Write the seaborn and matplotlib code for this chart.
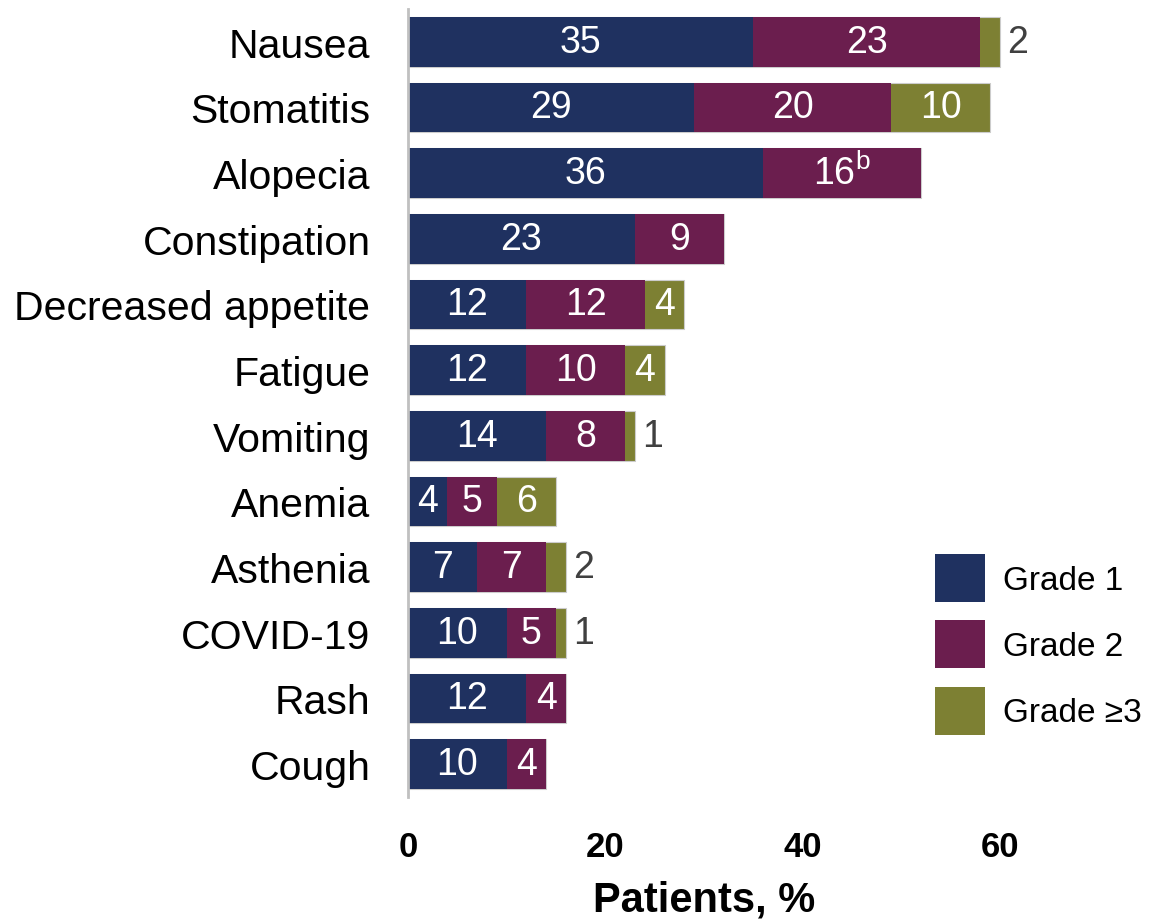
import numpy as np
import pandas as pd
import matplotlib
matplotlib.use('Agg')
import matplotlib.pyplot as plt
import seaborn as sns
from matplotlib.patches import Patch

# data (% of patients)
categories = ['Nausea', 'Stomatitis', 'Alopecia', 'Constipation', 'Decreased appetite',
              'Fatigue', 'Vomiting', 'Anemia', 'Asthenia', 'COVID-19', 'Rash', 'Cough']
grade1 = [35, 29, 36, 23, 12, 12, 14, 4, 7, 10, 12, 10]
grade2 = [23, 20, 16, 9, 12, 10, 8, 5, 7, 5, 4, 4]
grade3 = [2, 10, 0, 0, 4, 4, 1, 6, 2, 1, 0, 0]
legend_labels = ['Grade 1', 'Grade 2', 'Grade \u22653']
footnotes = {('Alopecia', 1): 'b'}
x_ticks = [0, 20, 40, 60]

navy = '#1F3160'
plum = '#6B1E4E'
olive = '#7D8033'

sns.set_style('white')
plt.rcParams['font.family'] = ['Liberation Sans', 'DejaVu Sans']
plt.rcParams['text.color'] = 'black'
plt.rcParams['axes.labelcolor'] = 'black'
plt.rcParams['xtick.color'] = 'black'
plt.rcParams['ytick.color'] = 'black'

df = pd.DataFrame({'AE': categories, 'g1': grade1, 'g2': grade2, 'g3': grade3})
df['g12'] = df['g1'] + df['g2']
df['total'] = df['g12'] + df['g3']

fig = plt.figure(figsize=(11.52, 9.2), dpi=100)
ax = fig.add_axes([408 / 1152, 1 - 798 / 920, 740 / 1152, 788 / 920])

# stacked bars drawn as layered cumulative totals
sns.barplot(data=df, y='AE', x='total', color=olive, saturation=1, width=0.76,
            edgecolor='#cccccc', linewidth=0.8, ax=ax)
sns.barplot(data=df, y='AE', x='g12', color=plum, saturation=1, width=0.76,
            linewidth=0, ax=ax)
sns.barplot(data=df, y='AE', x='g1', color=navy, saturation=1, width=0.76,
            linewidth=0, ax=ax)

# value labels
for i, row in df.iterrows():
    starts = [0, row['g1'], row['g12']]
    vals = [row['g1'], row['g2'], row['g3']]
    for k, (s, v) in enumerate(zip(starts, vals)):
        if v == 0:
            continue
        txt = str(v)
        if (row['AE'], k) in footnotes:
            txt += r'$^{\mathregular{' + footnotes[(row['AE'], k)] + '}}$'
        if v >= 3:
            ax.text(s + v / 2, i, txt, color='white', fontsize=27,
                    ha='center', va='center')
        else:
            ax.text(row['total'] + 0.7, i, txt, color='#404040', fontsize=27,
                    ha='left', va='center')

ax.set_xlim(0, 75)
ax.set_xticks(x_ticks)
ax.set_xticklabels([str(t) for t in x_ticks], fontweight='bold', fontsize=25)
ax.set_xlabel('Patients, %', fontweight='bold', fontsize=30)
ax.xaxis.set_label_coords(30 / 75, -0.105)
ax.set_ylabel('')
ax.tick_params(axis='x', length=0, pad=24)
ax.tick_params(axis='y', length=0, pad=27, labelsize=29.5)

for side in ['top', 'right', 'bottom']:
    ax.spines[side].set_visible(False)
ax.spines['left'].set_color('#c0c0c0')
ax.spines['left'].set_linewidth(2)

handles = [Patch(facecolor=c, edgecolor='none') for c in [navy, plum, olive]]
ax.legend(handles, legend_labels, loc='upper left',
          bbox_to_anchor=(935 / 1152, 1 - 555 / 920), bbox_transform=fig.transFigure,
          frameon=False, fontsize=24, handlelength=1.5, handleheight=1.84,
          handletextpad=0.55, labelspacing=0.55, borderpad=0, borderaxespad=0)

fig.savefig('out.png', dpi=100)
